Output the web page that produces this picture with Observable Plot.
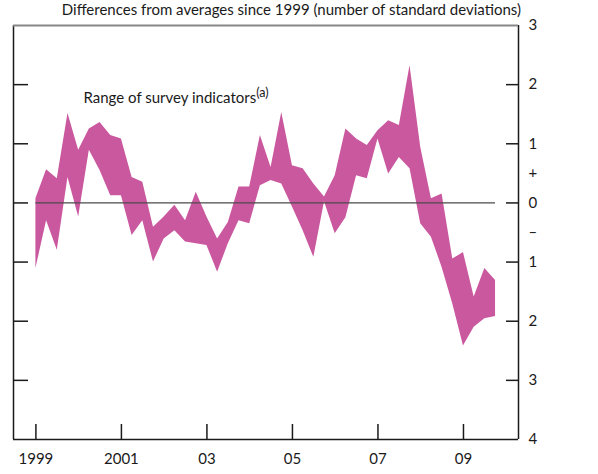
<!DOCTYPE html>
<html><head><meta charset="utf-8">
<script src="https://cdn.jsdelivr.net/npm/d3@7"></script>
<script src="https://cdn.jsdelivr.net/npm/@observablehq/plot@0.6"></script>
<style>
body{margin:0;background:#fff;font-family:Lato,"Open Sans",sans-serif;}
#wrap{position:relative;width:598px;height:474px;}
#title{position:absolute;top:0;right:77px;height:19px;line-height:19px;font-size:15px;color:#1a1a1a;white-space:nowrap;z-index:2;}
#chart{position:absolute;top:0;left:0;z-index:1;}
</style></head><body>
<div id="wrap"><div id="title">Differences from averages since 1999 (number of standard deviations)</div><div id="chart"></div></div>
<script>
const quarters = [
  "1999Q1","1999Q2","1999Q3","1999Q4","2000Q1","2000Q2","2000Q3","2000Q4",
  "2001Q1","2001Q2","2001Q3","2001Q4","2002Q1","2002Q2","2002Q3","2002Q4",
  "2003Q1","2003Q2","2003Q3","2003Q4","2004Q1","2004Q2","2004Q3","2004Q4",
  "2005Q1","2005Q2","2005Q3","2005Q4","2006Q1","2006Q2","2006Q3","2006Q4",
  "2007Q1","2007Q2","2007Q3","2007Q4","2008Q1","2008Q2","2008Q3","2008Q4",
  "2009Q1","2009Q2","2009Q3","2009Q4"
];
const upper = [
  0.07, 0.56, 0.41, 1.51, 0.89, 1.25, 1.36, 1.14,
  1.08, 0.43, 0.35, -0.41, -0.24, -0.04, -0.30, 0.18,
  -0.24, -0.61, -0.33, 0.27, 0.27, 1.14, 0.60, 1.53,
  0.63, 0.58, 0.32, 0.10, 0.46, 1.25, 1.08, 0.97,
  1.22, 1.39, 1.31, 2.32, 0.94, 0.07, 0.15, -0.95,
  -0.84, -1.59, -1.11, -1.31
];
const lower = [
  -1.11, -0.30, -0.80, 0.43, -0.24, 0.89, 0.55, 0.12,
  0.12, -0.55, -0.30, -1.00, -0.61, -0.47, -0.66, -0.69,
  -0.72, -1.17, -0.69, -0.30, -0.35, 0.29, 0.38, 0.32,
  -0.07, -0.47, -0.92, 0.02, -0.52, -0.25, 0.46, 0.41,
  1.08, 0.49, 0.77, 0.58, -0.35, -0.58, -1.09, -1.71,
  -2.42, -2.10, -1.96, -1.92
];
const yTicks = [3, 2, 1, 0.5, 0, -0.5, -1, -2, -3, -4];
const yTickLabels = ["3", "2", "1", "+", "0", "–", "1", "2", "3", "4"];
const xTicks = [1999, 2001, 2003, 2005, 2007, 2009];
const xTickLabels = ["1999", "2001", "03", "05", "07", "09"];
const seriesLabel = "Range of survey indicators";
const seriesNote = "(a)";

const toYear = q => +q.slice(0, 4) + (+q.slice(5) - 1) / 4;
const data = quarters.map((q, i) => ({t: toYear(q), lo: lower[i], hi: upper[i]}));
const xDomain = [1998.476, 2010.287];
const yDomain = [-4, 3];
const innerTicks = yTicks.filter(d => Number.isInteger(d) && d < yDomain[1] && d > yDomain[0]);
const ink = "#1a1a1a";

const plot = Plot.plot({
  width: 598, height: 474,
  marginTop: 25, marginBottom: 35, marginLeft: 13, marginRight: 80,
  style: {fontFamily: "Lato, 'Open Sans', sans-serif", fontSize: "15px", color: ink, background: "transparent"},
  x: {domain: xDomain},
  y: {domain: yDomain},
  marks: [
    Plot.areaY(data, {x: "t", y1: "lo", y2: "hi", fill: "#ca589f"}),
    Plot.ruleY([0], {x1: () => data[0].t, x2: () => data[data.length - 1].t, stroke: "#4a4a4a", strokeWidth: 1.3}),
    Plot.ruleX([xDomain[0]], {stroke: ink, strokeWidth: 1.5}),
    Plot.ruleX([xDomain[1]], {stroke: ink, strokeWidth: 1.5}),
    Plot.ruleY([yDomain[0]], {stroke: ink, strokeWidth: 1.5}),
    Plot.ruleY([yDomain[1]], {stroke: "#888", strokeWidth: 2}),
    Plot.axisY(innerTicks, {anchor: "left", tickSize: 15, dx: 15, fill: "none", label: null, stroke: ink, strokeWidth: 1.5}),
    Plot.axisY(innerTicks, {anchor: "right", tickSize: 13, dx: -13, fill: "none", label: null, stroke: ink, strokeWidth: 1.5}),
    Plot.axisY(yTicks, {anchor: "right", tickSize: 0, tickPadding: 10, label: null, fontSize: 15,
      tickFormat: d => yTickLabels[yTicks.indexOf(d)]}),
    Plot.axisX(xTicks, {anchor: "bottom", tickSize: 15, dy: -15, fill: "none", label: null, stroke: ink, strokeWidth: 1.5}),
    Plot.axisX(xTicks, {anchor: "bottom", tickSize: 0, tickPadding: 14, label: null, fontSize: 15,
      tickFormat: d => xTickLabels[xTicks.indexOf(d)]}),
    Plot.text([seriesLabel], {frameAnchor: "top-left", dx: 70, dy: 73, text: d => d,
      textAnchor: "start", lineAnchor: "middle", fontSize: 15, fill: ink})
  ]
});
document.getElementById("chart").appendChild(plot);
d3.select(plot).selectAll("text").filter(function() { return this.textContent === seriesLabel; })
  .append("tspan").attr("dy", -6).attr("font-size", "12.5px").text(seriesNote);
</script>
</body></html>
